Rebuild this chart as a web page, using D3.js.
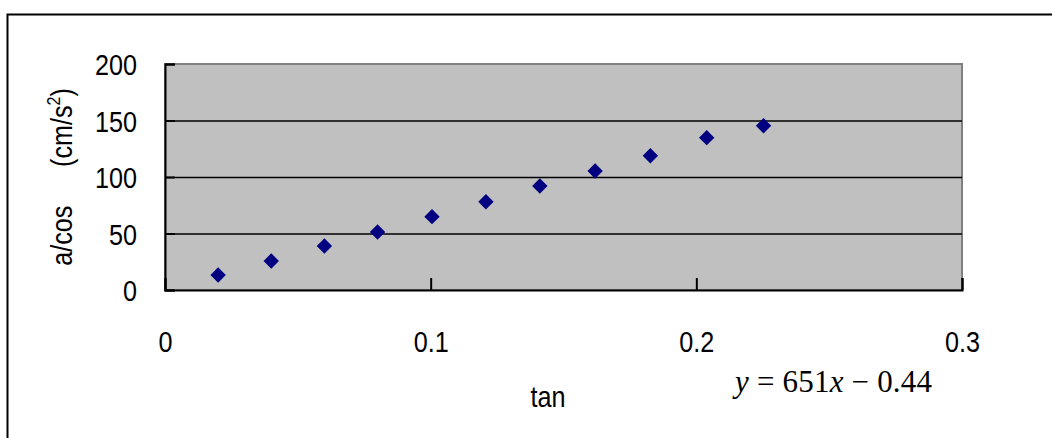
<!DOCTYPE html>
<html>
<head>
<meta charset="utf-8">
<script src="https://cdn.jsdelivr.net/npm/d3@7"></script>
<style>
  body { margin: 0; background: #fff; }
  svg { display: block; }
  text { font-family: "Liberation Sans", Arial, sans-serif; }
</style>
</head>
<body>
<div id="wrapper"></div>
<script>
// data
const tanValues = [0.020, 0.040, 0.060, 0.080, 0.1005, 0.1208, 0.1411, 0.1619, 0.1827, 0.2039, 0.2253]
const accelValues = [13.3, 25.7, 38.9, 51.3, 64.9, 78.1, 92.0, 105.3, 118.8, 134.8, 145.4]
const xTicks = [0, 0.1, 0.2, 0.3]
const yTicks = [0, 50, 100, 150, 200]
const gridValues = [50, 100, 150]

const dataset = tanValues.map((t, i) => ({ tan: t, acc: accelValues[i] }))
const xAccessor = d => d.tan
const yAccessor = d => d.acc

let dimensions = {
  width: 1052,
  height: 438,
  margin: { top: 64, right: 90, bottom: 148, left: 165 },
}
dimensions.boundedWidth = dimensions.width - dimensions.margin.left - dimensions.margin.right
dimensions.boundedHeight = dimensions.height - dimensions.margin.top - dimensions.margin.bottom

const squeeze = 0.84

const wrapper = d3.select("#wrapper")
  .append("svg")
    .attr("width", dimensions.width)
    .attr("height", dimensions.height)

// outer chart border (runs off the right and bottom edges)
wrapper.append("rect")
    .attr("x", 7.5)
    .attr("y", 14.5)
    .attr("width", 1100)
    .attr("height", 500)
    .attr("fill", "none")
    .attr("stroke", "#000")
    .attr("stroke-width", 2)

const bounds = wrapper.append("g")
    .attr("transform", `translate(${dimensions.margin.left},${dimensions.margin.top})`)

const xScale = d3.scaleLinear()
    .domain([0, 0.3])
    .range([0, dimensions.boundedWidth])
const yScale = d3.scaleLinear()
    .domain([0, 200])
    .range([dimensions.boundedHeight, 0])

// plot area
bounds.append("rect")
    .attr("width", dimensions.boundedWidth)
    .attr("height", dimensions.boundedHeight)
    .attr("fill", "#c0c0c0")
    .attr("stroke", "#808080")
    .attr("stroke-width", 2)

// gridlines
const grid = bounds.append("g")
  .call(d3.axisLeft(yScale).tickValues(gridValues).tickSize(-dimensions.boundedWidth).tickFormat(""))
grid.select(".domain").remove()
grid.selectAll("line").attr("stroke", "#000").attr("stroke-width", 1.6)

// dots (diamonds)
const diamond = d3.symbol().type(d3.symbolSquare).size(118)
bounds.selectAll("path.dot")
    .data(dataset)
  .enter().append("path")
    .attr("class", "dot")
    .attr("d", diamond)
    .attr("fill", "#000080")
    .attr("transform", d => `translate(${xScale(xAccessor(d))},${yScale(yAccessor(d))}) rotate(45)`)

// x axis
const xAxis = bounds.append("g")
    .attr("transform", `translate(0,${dimensions.boundedHeight})`)
    .call(d3.axisBottom(xScale).tickValues(xTicks).tickSize(-12).tickFormat(d3.format("")))
xAxis.select(".domain").attr("stroke-width", 2)
xAxis.selectAll("line").attr("stroke-width", 2)
xAxis.selectAll("text")
    .attr("y", 62)
    .attr("dy", 0)
    .attr("fill", "#000")
    .style("font-size", "30px")
    .attr("transform", `scale(${squeeze},1)`)

// y axis
const yAxis = bounds.append("g")
    .call(d3.axisLeft(yScale).tickValues(yTicks).tickSize(-10))
yAxis.select(".domain").attr("stroke-width", 2)
yAxis.selectAll("line").attr("stroke-width", 2)
yAxis.selectAll("text")
    .attr("x", -28 / squeeze)
    .attr("dy", "0.35em")
    .attr("fill", "#000")
    .style("font-size", "30px")
    .attr("transform", `scale(${squeeze},1)`)

// axis titles
wrapper.append("text")
    .attr("transform", `translate(548,407) scale(${squeeze},1)`)
    .attr("text-anchor", "middle")
    .style("font-size", "30px")
    .text("tan")

const yTitle = wrapper.append("text")
    .attr("transform", `translate(72,177) rotate(-90) scale(${squeeze},1)`)
    .attr("text-anchor", "middle")
    .style("font-size", "30px")
yTitle.append("tspan").text("a/cos")
yTitle.append("tspan").attr("dx", 46).text("(cm/s")
yTitle.append("tspan").attr("dy", -12).style("font-size", "19px").text("2")
yTitle.append("tspan").attr("dy", 12).text(")")

// fitted equation
const eq = wrapper.append("text")
    .attr("x", 735)
    .attr("y", 392)
    .attr("textLength", 197)
    .attr("lengthAdjust", "spacing")
    .style("font-family", "'Liberation Serif', 'Times New Roman', serif")
    .style("font-size", "31px")
eq.append("tspan").style("font-style", "italic").text("y")
eq.append("tspan").text(" = 651")
eq.append("tspan").style("font-style", "italic").text("x")
eq.append("tspan").text(" \u2212 0.44")
</script>
</body>
</html>
